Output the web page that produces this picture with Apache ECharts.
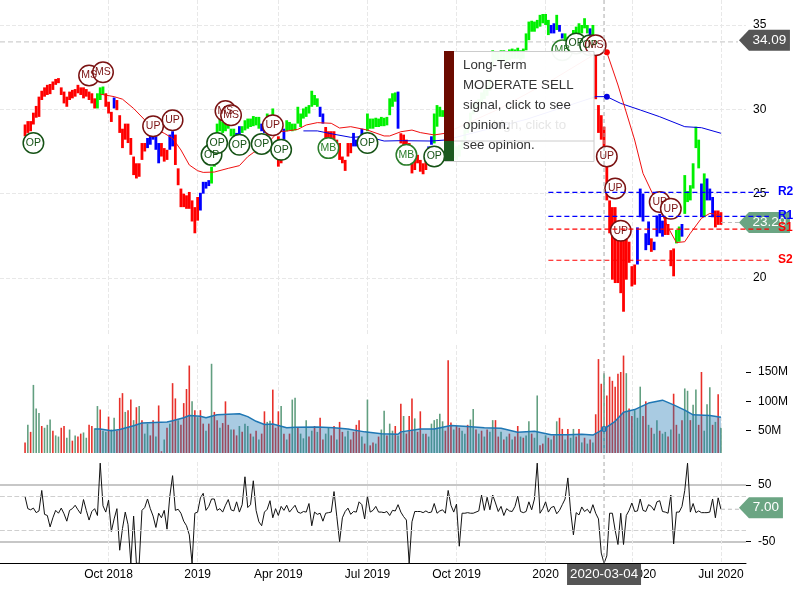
<!DOCTYPE html>
<html><head><meta charset="utf-8">
<style>html,body{margin:0;padding:0;background:#fff}#c{width:800px;height:600px}</style>
<script src="https://cdn.jsdelivr.net/npm/echarts@6/dist/echarts.min.js"></script>
</head><body><div id="c"></div>
<script>
// ---------- data ----------
const highs = [29.1,29.3,29.3,29.8,30.2,30.75,31.1,31.3,31.45,31.5,31.65,31.8,31.85,31.3,31.05,30.75,31.05,31.15,31.2,31.45,31.3,31.3,31.2,31.05,30.95,30.65,30.95,31.3,31.35,30.95,30.45,29.85,30.7,30.55,29.65,28.85,29.15,29.15,28.3,27.2,26.8,26.8,28,28,28.3,28.6,28.7,28.4,28,28,27.7,27.6,28.5,28.7,28.5,26.5,25.3,25,24.9,25.1,24.6,24.2,24.8,25.05,25.7,25.7,25.8,26.6,28.2,29.15,29.45,29.25,29.15,29.35,28.85,28.85,28.6,29,29,29.35,29.45,29.45,29.6,29.55,29.55,29.15,29.05,29.75,29.65,30.05,29.35,28.4,27.8,28.85,29.35,29.25,29.15,29.15,30.15,29.75,30.05,30.15,30.25,31.1,30.85,30.65,30.15,29.75,28.95,28.7,28.7,28.7,28.2,28,27.2,27,28,28,28.6,28.2,28.4,28.85,28.6,29.75,29.45,29.45,29.5,29.45,29.55,29.5,29.55,30.65,30.95,31,31.05,28.58,28.5,28.2,28,26.8,27.2,27.3,27,26.8,27.2,27.8,28.4,29.75,30.25,30.15,29.95,30,29.9,29.3,28,27.8,27.9,28.2,28.8,29.2,29.8,30.4,30.5,30.6,31,31.2,31.4,31.8,33.5,33.45,33.4,33.5,33.5,33.45,33.55,33.6,33.55,33.65,33.5,33.6,34.5,35.2,35.25,35.2,35.3,35.6,35.65,35.65,35.3,35,35.1,35.6,35,34.5,34.5,34.3,34.2,34.7,34.9,35.1,35,35.4,35,34.8,35,33.5,30.25,29.65,28.97,27,24.6,24.2,24.2,23,22.25,22.25,22.65,22.15,20.7,20.8,23,25.3,25,22.65,23.35,22.35,22.15,23.7,23.8,23.4,23.6,23.2,21.65,21.75,22.85,23.05,23.2,26.1,25.15,25.5,26.8,28.97,28.2,25.6,26.2,25.9,25.3,24.8,24,24,23.9];
const lows = [28.4,28.6,28.7,29.1,29.5,29.55,30.55,30.75,30.85,30.9,31.15,31.45,31.55,30.85,30.35,30.15,30.55,30.65,30.75,30.95,30.85,30.65,30.75,30.55,30.35,30.05,30.05,30.55,30.85,30.15,29.75,29.25,30.05,29.95,28.6,27.7,28.2,28,27.3,26.1,25.9,26,27,27.5,27.7,27.9,28.2,27.6,26.8,27.2,26.9,27,27.6,27.8,26.7,25.5,24.2,24.2,24.1,24.1,23.35,22.65,23.4,24,25,25.3,25.45,25.6,26.6,28.4,28.7,28.6,28.7,28.85,28.4,28.4,28.2,28.4,28.6,28.75,28.85,28.95,29,29.05,28.85,28.7,28.6,28.75,28.95,29.25,28.6,26.6,26.8,28.2,28.7,28.75,28.7,28.75,29.15,28.95,29.45,29.55,29.75,30.15,30.25,30.15,29.55,29.15,28.2,28.2,28.2,28.2,27.8,27,26.8,26.35,27.2,27.4,27.8,27.8,27.8,28.2,28.2,28.7,28.85,28.85,28.95,28.95,29,29,29.05,29.65,30.15,30.45,28.85,27.98,27.8,27.8,26.8,26.2,26.4,26.8,26.3,26.15,26.4,27.2,27.9,27.98,28.97,29.56,29.55,29.4,29.2,28,27.1,27,27.2,27.6,28.2,28.6,29.1,29.7,30,30.1,30.3,30.6,30.8,31.1,32.5,32.9,32.8,32.9,32.9,32.8,32.9,33,33,33,32.9,33,33.5,34.1,34.6,34.6,34.8,34.9,35.1,35,34.4,34.5,34.5,34.7,34.6,34.2,33.9,33.7,33.6,33.9,34.1,34.5,34.5,34.8,34.5,34.3,34.4,30.6,28.6,28.2,27,24.6,22.65,19.9,19.7,19.7,19.1,18,19.9,20.9,19.5,19.6,20.8,23.6,23.35,21.65,21.95,21.55,21.65,22.45,22.65,22.45,22.55,22.55,20.7,20.1,22.05,22.15,22.45,23.8,24.5,24.6,25.3,27.7,26.5,23.6,23.6,24.6,24.6,23.6,23,23.15,23.15];
// last session index of each colour run: r falling, g rising, b neutral
const trendRuns = [[25,'r'],[28,'g'],[31,'r'],[32,'b'],[43,'r'],[48,'b'],[51,'r'],[53,'b'],[62,'r'],[66,'b'],[75,'g'],[77,'b'],[84,'g'],[86,'b'],[89,'g'],[92,'r'],[93,'b'],[105,'g'],[107,'b'],[117,'r'],[122,'b'],[133,'g'],[134,'b'],[144,'r'],[146,'b'],[188,'g'],[190,'b'],[191,'g'],[193,'b'],[202,'g'],[203,'b'],[204,'g'],[219,'r'],[224,'b'],[225,'r'],[229,'b'],[233,'r'],[235,'g'],[236,'b'],[242,'g'],[243,'b'],[244,'g'],[247,'b'],[250,'r']];
// [session, price]
const maRed = [[27,30.9],[32,30.75],[35,30.6],[39,30.05],[43,29.37],[46,28.87],[50,28.58],[53,28.28],[56,27.59],[59,26.7],[62,26.36],[64,26.26],[68,26.28],[73,26.5],[77,26.66],[80,27.19],[82,27.43],[86,27.79],[91,28.67],[94,28.71],[98,28.81],[101,29.07],[105,29.21],[110,29.17],[113,28.89],[117,28.97],[123,28.77],[129,28.42],[131,28.42],[135,28.67],[139,28.77],[142,28.62],[147,28.48],[151,28.58],[170,30],[190,31.8],[205,33.3],[209,33.38],[213,31.44],[219,28.18],[222,26.2],[226,24.8],[231,23],[234,22.1],[237,22.15],[239,22.65],[243,23.54],[246,23.83],[250,23.73]];
const maBlue = [[100,28.72],[105,28.72],[111,28.52],[117,28.34],[123,28.38],[129,28.12],[135,28.14],[146,28.12],[151,28.18],[180,29.4],[205,30.75],[209,30.75],[214,30.35],[221,29.96],[228,29.56],[237,28.97],[243,28.91],[250,28.58]];
const volumes = [30,60,48,128,88,80,58,55,60,69,50,42,40,55,58,38,52,33,42,40,45,47,38,60,58,54,92,86,50,48,74,52,72,50,106,114,82,85,103,68,90,92,68,45,62,42,68,40,93,15,35,55,62,131,105,68,60,97,121,161,100,85,73,85,62,50,62,164,82,68,55,63,100,60,52,52,42,58,48,62,58,45,40,50,35,45,83,65,67,120,55,83,92,45,35,45,103,106,55,45,37,68,40,50,58,48,72,35,45,55,42,58,35,65,48,40,50,35,48,60,68,40,28,103,25,30,28,40,52,84,42,62,50,58,42,96,75,45,75,105,71,48,83,45,45,40,62,68,70,79,66,50,170,64,52,58,55,50,45,60,69,87,52,45,50,40,52,48,68,68,40,48,35,40,45,35,40,58,40,38,42,66,45,38,110,25,28,42,38,35,42,66,72,53,35,53,38,53,40,53,30,38,28,35,30,78,172,130,148,110,142,135,125,147,150,178,148,88,75,85,72,125,75,100,60,55,45,68,50,45,48,40,52,113,60,45,68,122,118,68,94,120,60,150,50,95,124,60,65,112,55];
const volumeSides = 'rgrgggrggg'+'rggrrggrgr'+'rggrrggrgg'+'rggrrrgrrg'+'rgrggrrgrr'+'grgrrgrrrr'+'grgrrgrgrr'+'grrrgrrgrg'+'grgrgrrggr'+'rrgrgrggrg'+'ggrgrgrrgg'+'rrgrrggrrr'+'rgrgrrgrgg'+'rggrgrgrrr'+'grrgrggggg'+'grrrgrrggr'+'ggrgrgrggr'+'rgrgrgrrgr'+'ggrggrrgrg'+'rgrrgrggrr'+'grgrgrrrgr'+'rrrrrrgrrg'+'ggrrgrggrg'+'grgrrgrggr'+'ggrrgggrgr'+'g';
const volumeMa = [[25,53],[27,53],[31,50],[34,52],[39,58.5],[42,63],[51,65],[53,67],[57,72],[59,76],[63,74.5],[65,72],[69,77],[77,79],[80,74],[83,66],[86,60.5],[89,61.5],[94,55],[97,56],[105,56.5],[111,55],[116,53],[122,48],[128,45],[134,44],[135,48],[142,53],[147,53],[153,59],[159,57],[165,55],[171,54],[177,47.5],[183,49],[189,43],[195,43],[200,44],[204,42.5],[208,53],[212,66],[215,81.5],[219,86],[224,97],[229,102],[233,94],[237,85],[240,77],[246,76],[250,73]];
const cci = [29,8,6,9,1,4,40,-2,-4,-24,-8,5,0,9,-1,-14,5,8,14,6,-1,24,5,-12,3,8,-4,88,13,2,23,-32,-10,8,-65,-27,2,-20,-88,-5,-88,-88,5,10,25,8,-5,-25,0,-8,5,-28,30,66,5,7,0,-14,-22,-38,-88,0,2,27,35,5,12,25,25,5,8,2,14,24,6,4,20,2,15,64,10,15,57,5,-15,-22,2,7,22,-8,8,-4,12,5,14,2,8,14,2,0,3,2,17,-22,2,-2,0,-14,0,1,2,38,-6,-50,-8,3,9,-2,3,2,20,15,-10,30,2,5,12,2,2,1,3,-4,5,4,15,2,-6,-12,-88,-15,3,3,3,1,4,1,2,17,0,4,6,0,40,14,2,16,-58,0,0,1,0,0,2,4,32,5,28,6,32,18,3,12,-4,8,4,3,12,30,3,1,3,20,6,25,88,0,8,20,2,10,12,-1,5,15,25,62,3,-38,1,-3,11,3,7,0,15,0,-10,-70,-88,-75,0,0,-30,-55,0,-55,-4,5,18,3,4,25,5,3,15,12,5,20,22,3,2,0,32,-54,2,2,12,40,88,2,17,1,4,1,1,1,2,25,-8,27,7];
const priceTicks = [20,25,30,35];
const volumeTicks = [50,100,150];
const cciTicks = [-50,50];
const cciBands = [-30,30];
const levels = [{name:'R2',value:25.08,color:'#0000ff'},{name:'R1',value:23.65,color:'#0000ff'},{name:'S1',value:22.9,color:'#ff0000'},{name:'S2',value:21.05,color:'#ff0000'}];
const levelStart = 188;
// [session, price, text, kind]
const signals = [[3,28,'OP','op'],[23,32,'MS','s'],[28,32.2,'MS','s'],[46,29,'UP','s'],[53,29.35,'UP','s'],[67,27.3,'OP','op'],[69,28,'OP','op'],[72,29.9,'MS','s'],[74,29.65,'MS','s'],[77,27.9,'OP','op'],[85,27.95,'OP','op'],[89,29.05,'UP','s'],[92,27.6,'OP','op'],[109,27.7,'MB','mb'],[123,28,'OP','op'],[137,27.3,'MB','mb'],[147,27.2,'OP','op'],[193,33.5,'MB','mb'],[198,33.9,'OP','op'],[203,33.8,'OP','op'],[205,33.8,'MS','s'],[209,27.2,'UP','s'],[212,25.3,'UP','s'],[214,22.8,'UP','s'],[228,24.5,'UP','s'],[232,24.1,'UP','s']];
const tickIndex = [39,71,100,132,164,196,227,259];
const tickLabels = ['Oct 2018','2019','Apr 2019','Jul 2019','Oct 2019','2020','Apr 2020','Jul 2020'];
const crossIndex = 217, crossDate = '2020-03-04', crossPrice = 34.0, crossDotIndex = 209;
const lastPrice = 23.29, cursorPrice = 34.09, lastCci = 7.00;
const sessionCount = 269, firstSession = 9;
const categories = [];
for (let k = 0; k < sessionCount; k++) categories.push(new Date(Date.UTC(2018,5,10) + k*2.917*864e5).toISOString().slice(0,10));
const tooltipLines = ['Long-Term','MODERATE SELL','signal, click to see','opinion.','see opinion.'];
const tooltipGhost = 'high, click to';

// ---------- helpers ----------
const COL = {r:'#ff0000', g:'#00f000', b:'#0000ff'};
const isTick = i => tickIndex.includes(i);
const labelOf = {}; tickIndex.forEach((t,k)=>labelOf[categories[t]] = tickLabels[k]);
function trendAt(i){ for (const [end,c] of trendRuns) if (i<=end) return c; return 'r'; }
const at = i => i + firstSession;
const axisFont = {fontFamily:'Liberation Sans, Arial, sans-serif', fontSize:12, color:'#000'};

function xAxis(g, bottom){
  return {type:'category', gridIndex:g, data:categories, boundaryGap:false,
    axisLine:{show:bottom, onZero:false, lineStyle:{color:'#000',width:1}}, axisTick:{show:false, interval:isTick},
    axisLabel:{show:bottom, interval:isTick, formatter:v=>labelOf[v]||'', margin:5, hideOverlap:false, ...axisFont},
    splitLine:{show:true, interval:isTick, lineStyle:{type:'dashed',color:'#e8e8e8',width:1}}};
}
function tagSeries(x, y, value, text, fill, w, last, name, dy, leader){
  const d = {cat:at(last), shown:value, text, fill, w, dy, leader};
  return {name, type:'custom', xAxisIndex:x, yAxisIndex:y, silent:true, clip:false, z:6,
    renderItem:(p,api)=>{
      const c = api.coord([d.cat, d.shown]);
      const px = c[0], py = c[1] + (d.dy||0);
      const kids = [
        {type:'polygon', shape:{points:[[px+18,py],[px+28,py-10.5],[px+28+d.w,py-10.5],[px+28+d.w,py+10.5],[px+28,py+10.5]]}, style:{fill:d.fill}},
        {type:'text', x:px+28+d.w/2, y:py, style:{text:d.text,fill:'#fff',font:'13.5px Liberation Sans, Arial, sans-serif',textAlign:'center',textVerticalAlign:'middle'}}
      ];
      if (d.leader) kids.unshift({type:'line', shape:{x1:px,y1:c[1],x2:px+18,y2:c[1]}, style:{stroke:'#bbb',lineDash:[4,3],lineWidth:1}});
      return {type:'group', children:kids};
    }, data:[[at(last),value]]};
}

const opt = {
  animation:false, backgroundColor:'#fff',
  grid:[
    {left:0,right:54,top:0,height:335},
    {left:0,right:54,top:345,height:108},
    {left:0,right:54,top:462,height:101.3}
  ],
  xAxis:[xAxis(0,false),xAxis(1,false),xAxis(2,true)],
  yAxis:[
    {type:'value',gridIndex:0,position:'right',min:16.62,max:36.48,
     axisLine:{show:false},axisTick:{show:false,customValues:priceTicks},
     axisLabel:{customValues:priceTicks,margin:7,...axisFont},
     splitLine:{show:true,lineStyle:{type:'dashed',color:'#e8e8e8'}}},
    {type:'value',gridIndex:1,position:'right',min:12,max:196,
     axisLine:{show:false},axisTick:{show:true,customValues:volumeTicks,length:5,lineStyle:{color:'#000'}},
     axisLabel:{customValues:volumeTicks,margin:12,formatter:v=>v+'M',...axisFont},
     splitLine:{show:false}},
    {type:'value',gridIndex:2,position:'right',min:-88,max:90,
     axisLine:{show:false},axisTick:{show:true,customValues:cciTicks,length:5,lineStyle:{color:'#000'}},
     axisLabel:{customValues:cciTicks,margin:12,...axisFont},
     splitLine:{show:true,lineStyle:{color:'#b4b4b4',width:1.5}}}
  ],
  series:[
    {name:'Price',type:'custom',xAxisIndex:0,yAxisIndex:0,z:2,silent:true,
     encode:{x:0,y:[1,2]},
     data:highs.map((h,i)=>[at(i),lows[i],h]),
     renderItem:(p,api)=>{
       const top=api.coord([api.value(0),api.value(2)]), bot=api.coord([api.value(0),api.value(1)]);
       return {type:'rect',shape:{x:top[0]-1.4,y:top[1],width:2.8,height:bot[1]-top[1]},style:{fill:COL[trendAt(p.dataIndex)]}};
     }},
    {name:'MA long',type:'line',xAxisIndex:0,yAxisIndex:0,data:maBlue.map(d=>[at(d[0]),d[1]]),showSymbol:false,z:3,lineStyle:{color:'#0000e0',width:1},silent:true},
    {name:'MA short',type:'line',xAxisIndex:0,yAxisIndex:0,data:maRed.map(d=>[at(d[0]),d[1]]),showSymbol:false,z:3,lineStyle:{color:'#f01010',width:1},silent:true},
    {name:'Cross dots',type:'scatter',xAxisIndex:0,yAxisIndex:0,symbolSize:6,z:3,silent:true,
     data:[{value:[at(crossDotIndex),maRed.find(d=>d[0]===crossDotIndex)[1]],itemStyle:{color:'#ff0000',opacity:1}},{value:[at(crossDotIndex),maBlue.find(d=>d[0]===crossDotIndex)[1]],itemStyle:{color:'#0000e0',opacity:1}}]},
    tagSeries(0,0,cursorPrice,'34.09','#555555',41,250,'cursor tag',0,false),
    tagSeries(0,0,lastPrice,'23.29','#6ba583',41,250,'last tag',0,true),
    {name:'Levels',type:'custom',xAxisIndex:0,yAxisIndex:0,silent:true,clip:false,z:7,
     data:levels.map(l=>[at(levelStart),l.value]),
     renderItem:(p,api)=>{
       const l=levels[p.dataIndex], a=api.coord([at(levelStart),l.value]);
       const end=api.coord([at(250),l.value])[0]+48;
       return {type:'group',children:[
         {type:'line',shape:{x1:a[0],y1:a[1],x2:end,y2:a[1]},style:{stroke:l.color,lineDash:[5,3],lineWidth:1.2}},
         {type:'text',x:end+9,y:a[1]-1,style:{text:l.name,fill:l.color,font:'bold 12px Liberation Sans, Arial, sans-serif',textVerticalAlign:'middle'}}
       ]};
     }},
    {name:'Signals',type:'scatter',xAxisIndex:0,yAxisIndex:0,symbol:'circle',symbolSize:20.5,z:5,silent:true,
     data:signals.map(s=>{
       const c=s[3]==='s'?'#7a1212':(s[3]==='mb'?'#2a7d2a':'#155215');
       return {value:[at(s[0]),s[1]],itemStyle:{color:'#fff',borderColor:c,borderWidth:1.5,opacity:1},
         label:{show:true,position:'inside',formatter:s[2],color:c,fontSize:10.5,fontFamily:'Liberation Sans, Arial, sans-serif'}};
     })},
    {name:'Volume',type:'bar',xAxisIndex:1,yAxisIndex:1,barWidth:1.6,z:2,silent:true,
     data:volumes.map((v,i)=>({value:[at(i),v],itemStyle:{color:volumeSides[i]==='r'?'#e8302a':'#629f80'}}))},
    {name:'Volume MA',type:'line',xAxisIndex:1,yAxisIndex:1,showSymbol:false,z:3,silent:true,
     data:volumeMa.map(d=>[at(d[0]),d[1]]),lineStyle:{color:'#1f77b4',width:1.5},areaStyle:{color:'rgba(31,119,180,0.55)',origin:'start'}},
    {name:'Volume dot',type:'scatter',xAxisIndex:1,yAxisIndex:1,symbolSize:6,z:4,silent:true,itemStyle:{color:'#1f77b4',opacity:1},data:[[at(208),53]]},
    {name:'CCI',type:'line',xAxisIndex:2,yAxisIndex:2,showSymbol:false,z:3,silent:true,clip:true,
     data:cci.map((v,i)=>[at(i),v]),lineStyle:{color:'#111',width:1},
     markLine:{silent:true,symbol:'none',label:{show:false},lineStyle:{type:'dashed',color:'#cfcfcf',width:1.2},data:cciBands.map(v=>({yAxis:v}))}},
    tagSeries(2,2,lastCci,'7.00','#6ba583',34,250,'cci tag',-1.5,true)
  ]
};
const chart = echarts.init(document.getElementById('c'),null,{renderer:'canvas'});
chart.setOption(opt);

const cx = chart.convertToPixel({xAxisIndex:0},crossIndex);
const cy = chart.convertToPixel({yAxisIndex:0},crossPrice);
const F = '13.3px Liberation Sans, Arial, sans-serif';
const el = [
  {type:'line',z:20,shape:{x1:cx,y1:0,x2:cx,y2:563},style:{stroke:'#aaa',lineDash:[4,3],lineWidth:1}},
  {type:'line',z:4,shape:{x1:0,y1:cy,x2:738,y2:cy},style:{stroke:'#cfcfcf',lineDash:[5,3],lineWidth:1.4}},
  {type:'rect',z:30,shape:{x:cx-37,y:564,width:74,height:21},style:{fill:'#555'}},
  {type:'text',z:31,x:cx,y:574.5,style:{text:crossDate,fill:'#fff',font:F,textAlign:'center',textVerticalAlign:'middle'}},
  {type:'rect',z:40,shape:{x:444.5,y:51.5,width:149.5,height:110},style:{fill:'rgba(255,255,255,0.95)',stroke:'#cccccc',lineWidth:1}},
  {type:'rect',z:41,shape:{x:444,y:51,width:10,height:90},style:{fill:'#6b0a00'}},
  {type:'rect',z:41,shape:{x:444,y:141,width:10,height:20},style:{fill:'#1b5a1e'}},
  {type:'line',z:41,shape:{x1:454,y1:141,x2:594,y2:141},style:{stroke:'#cccccc',lineWidth:1}},
  {type:'text',z:41,x:493,y:125,style:{text:tooltipGhost,fill:'#e6e6e6',font:F,textVerticalAlign:'middle'}}
];
tooltipLines.forEach((t,k)=>el.push({type:'text',z:42,x:463,y:65+k*20,style:{text:t,fill:'#333',font:F,textVerticalAlign:'middle'}}));
chart.setOption({graphic:{elements:el}});
</script></body></html>
